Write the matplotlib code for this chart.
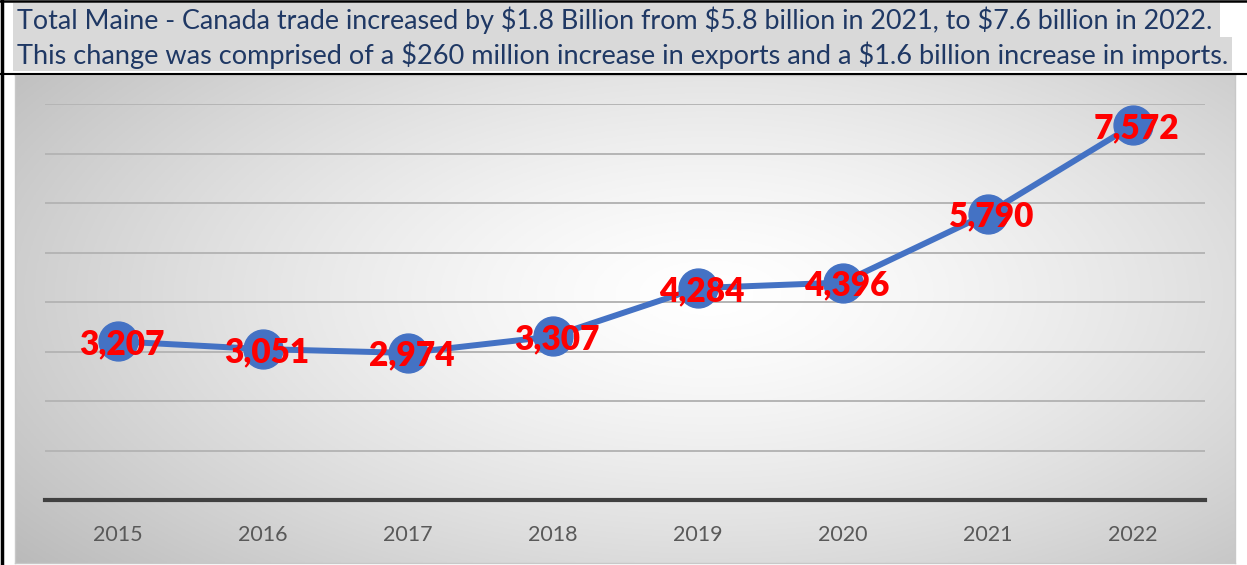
import matplotlib
matplotlib.use("Agg")
import matplotlib.pyplot as plt
import numpy as np
from matplotlib.lines import Line2D
from matplotlib.patches import Rectangle
from matplotlib import font_manager

# data (millions USD)
years = ["2015", "2016", "2017", "2018", "2019", "2020", "2021", "2022"]
trade_total = [3207, 3051, 2974, 3307, 4284, 4396, 5790, 7572]

header_lines = [
    "Total Maine - Canada trade increased by $1.8 Billion from $5.8 billion in 2021, to $7.6 billion in 2022.",
    "This change was comprised of a $260 million increase in exports and a $1.6 billion increase in imports.",
]

W, H = 1247, 565
plt.rcParams["font.family"] = ["Lato", "DejaVu Sans"]

# heavy face for the data labels: take the Lato file with weight >= 700, closest to bold
bold_fp = font_manager.FontProperties(family="DejaVu Sans", weight="bold")
cands = [f for f in font_manager.fontManager.ttflist
         if f.name == "Lato" and f.style == "normal" and int(f.weight) >= 700]
if cands:
    best = sorted(cands, key=lambda f: abs(int(f.weight) - 800))[0]
    bold_fp = font_manager.FontProperties(fname=best.fname)
else:
    for fam in ["Open Sans", "Noto Sans", "Liberation Sans"]:
        c2 = [f for f in font_manager.fontManager.ttflist
              if f.name == fam and f.style == "normal" and int(f.weight) >= 700]
        if c2:
            bold_fp = font_manager.FontProperties(fname=c2[0].fname)
            break

fig = plt.figure(figsize=(W / 100, H / 100), dpi=100)
fig.patch.set_facecolor("white")


def fx(px):
    return px / W


def fy(py):
    # py measured from top of picture
    return 1 - py / H


# header band
fig.add_artist(Rectangle((fx(13), fy(37)), fx(1220 - 13), 34 / H, transform=fig.transFigure,
                         facecolor="#d9d9d9", edgecolor="none", zorder=0))
fig.add_artist(Rectangle((fx(13), fy(71)), fx(1232 - 13), 34 / H, transform=fig.transFigure,
                         facecolor="#d9d9d9", edgecolor="none", zorder=0))
t1 = fig.text(fx(17), fy(20), header_lines[0], ha="left", va="center", fontsize=18,
              color="#1f3864", parse_math=False)
t2 = fig.text(fx(17), fy(55), header_lines[1], ha="left", va="center", fontsize=18,
              color="#1f3864", parse_math=False)

# fit header widths to the reference
fig.canvas.draw()
for t, target in [(t1, 1195), (t2, 1211)]:
    t.set_fontsize(18 * target / t.get_window_extent().width)

# frame lines
fig.add_artist(Line2D([0, 1], [fy(1), fy(1)], color="black", lw=1.8, transform=fig.transFigure))
fig.add_artist(Line2D([0, 1], [fy(73.5), fy(73.5)], color="black", lw=1.5, transform=fig.transFigure))
fig.add_artist(Line2D([fx(2), fx(2)], [0, 1], color="black", lw=2.5, transform=fig.transFigure))

# radial gradient background of the chart box
bg = fig.add_axes([fx(15), fy(563), fx(1235 - 15), (563 - 75) / H])
gx, gy = np.meshgrid(np.linspace(0, 1, 400), np.linspace(0, 1, 200))
r = np.sqrt(((gx - 0.57) / 0.62) ** 2 + ((gy - 0.45) / 0.75) ** 2)
r = np.clip(r / r.max(), 0, 1)
shade = 1 - 0.27 * r ** 1.4
bg.imshow(np.dstack([shade, shade, shade]), extent=[0, 1, 0, 1], aspect="auto", origin="upper")
bg.set_xticks([])
bg.set_yticks([])
for sp in bg.spines.values():
    sp.set_color("#c8c8c8")
    sp.set_linewidth(1)

# main chart
ax = fig.add_axes([fx(45), fy(500), fx(1205 - 45), (500 - 104.3) / H])
ax.set_facecolor("none")
x = np.arange(len(years))
ax.plot(x, trade_total, color="#4472c4", lw=4.3, marker="o", ms=28,
        markerfacecolor="#4472c4", markeredgecolor="#4472c4", clip_on=False, zorder=3)
bold_fp.set_size(24)
for xi, v in zip(x, trade_total):
    ax.annotate(f"{v:,}", (xi, v), xytext=(3, -2), textcoords="offset points",
                ha="center", va="center", color="red", fontproperties=bold_fp, zorder=4)

ax.set_xlim(-0.5, len(years) - 0.5)
ax.set_ylim(0, 8000)
ax.set_yticks(np.arange(1000, 8001, 1000))
ax.yaxis.grid(True, color="#b5b5b5", lw=1.4)
ax.set_axisbelow(True)
ax.tick_params(axis="y", left=False, labelleft=False)
ax.set_xticks(x)
ax.set_xticklabels(years, fontsize=15.5, color="#595959")
ax.tick_params(axis="x", length=0, pad=18)
for s in ["top", "left", "right"]:
    ax.spines[s].set_visible(False)
ax.spines["bottom"].set_color("#404040")
ax.spines["bottom"].set_linewidth(3)

fig.savefig("out.png", dpi=100)
